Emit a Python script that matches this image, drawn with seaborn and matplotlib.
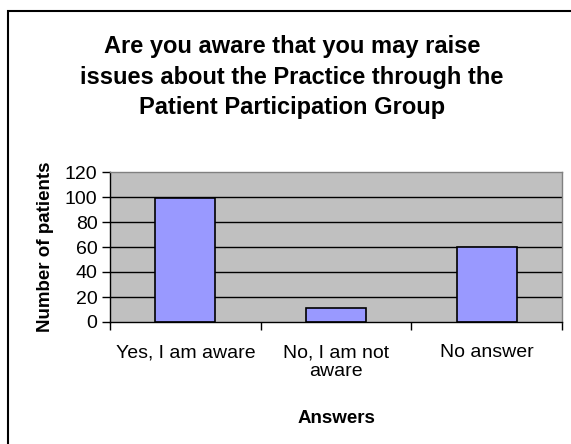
import matplotlib
matplotlib.use("Agg")
import matplotlib.pyplot as plt
import matplotlib.patches as patches
import seaborn as sns

# data
answers = ["Yes, I am aware", "No, I am not\naware", "No answer"]
patients = [99, 11, 60]
y_ticks = [0, 20, 40, 60, 80, 100, 120]

sns.set_style("white")
plt.rcParams["font.family"] = ["Liberation Sans", "DejaVu Sans"]
plt.rcParams["text.color"] = "black"
plt.rcParams["axes.labelcolor"] = "black"
plt.rcParams["xtick.color"] = "black"
plt.rcParams["ytick.color"] = "black"

fig = plt.figure(figsize=(5.71, 4.44), dpi=100)
ax = fig.add_axes([110 / 571, 122 / 444, 452 / 571, 150 / 444])
ax.set_facecolor("#C0C0C0")

# horizontal grid lines
for v in y_ticks[1:-1]:
    ax.axhline(v, color="black", linewidth=1, zorder=1)

sns.barplot(x=answers, y=patients, color="#9999FF", saturation=1,
            edgecolor="black", linewidth=1.2, width=0.4, ax=ax, zorder=2)

ax.set_ylim(0, 120)
ax.set_xlim(-0.5, 2.5)
ax.set_yticks(y_ticks)
ax.set_yticklabels([str(v) for v in y_ticks], fontsize=14)
ax.tick_params(axis="y", direction="out", length=6, width=1, pad=3, left=True)

# category boundary ticks + labels centered between them
ax.set_xticks([-0.5, 0.5, 1.5, 2.5])
ax.set_xticklabels([])
ax.set_xticks([0, 1, 2], minor=True)
ax.set_xticklabels(answers, minor=True, fontsize=14, linespacing=1.1)
ax.tick_params(axis="x", which="major", direction="out", length=6, width=1, bottom=True)
ax.tick_params(axis="x", which="minor", length=0, pad=16)

for side in ["left", "bottom"]:
    ax.spines[side].set_color("black")
    ax.spines[side].set_linewidth(1)
for side in ["top", "right"]:
    ax.spines[side].set_color("#808080")
    ax.spines[side].set_linewidth(1)

ax.set_ylabel("Number of patients", fontsize=13.5, fontweight="bold", labelpad=8)
ax.set_xlabel("Answers", fontsize=13.5, fontweight="bold", labelpad=22)

fig.text(0.511, 0.826,
         "Are you aware that you may raise\nissues about the Practice through the\nPatient Participation Group",
         ha="center", va="center", fontsize=17, fontweight="bold", linespacing=1.42)

# outer chart frame
frame = patches.Rectangle((8 / 571, -0.05), 1.2, 0.05 + 433 / 444,
                          transform=fig.transFigure, fill=False,
                          edgecolor="black", linewidth=1.5, clip_on=False)
fig.patches.append(frame)

fig.savefig("out.png", dpi=100)
